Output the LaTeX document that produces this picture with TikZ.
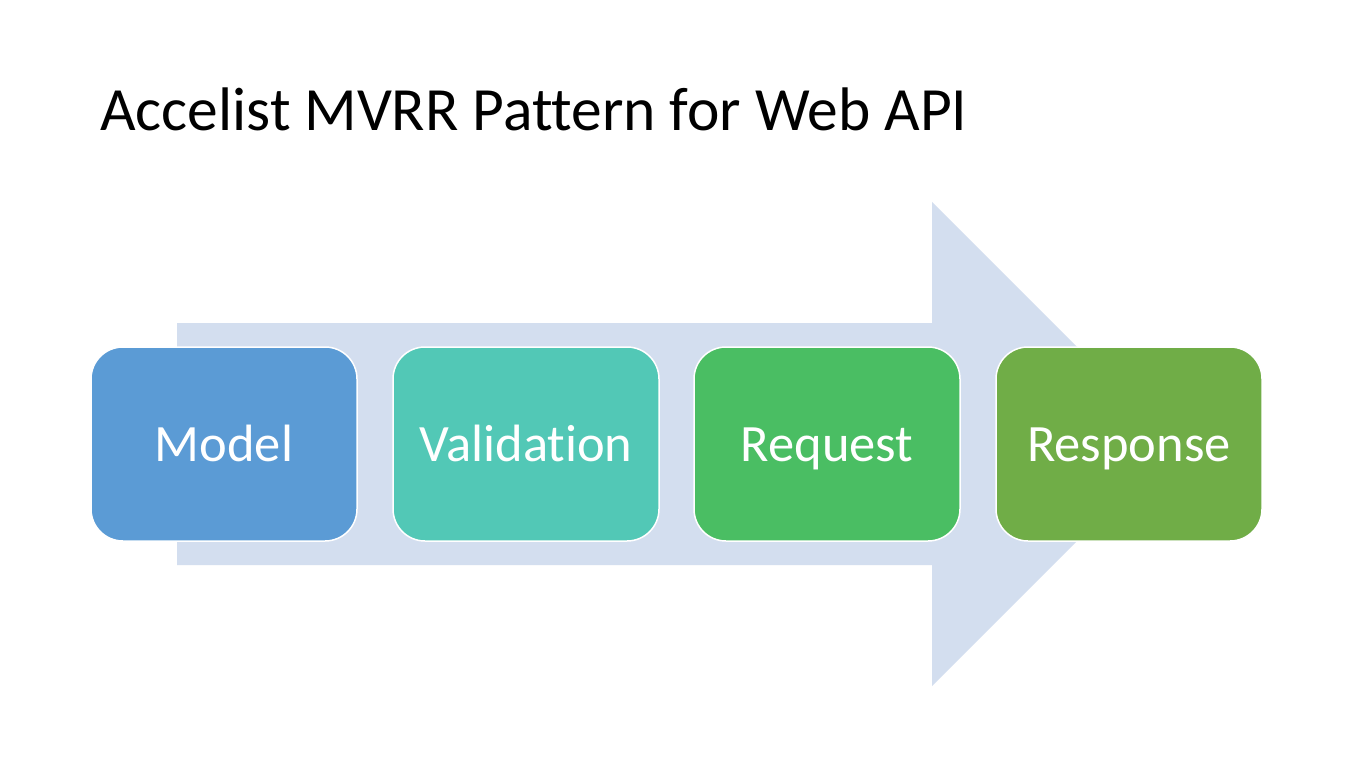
\documentclass[tikz,border=0pt]{standalone}
\usepackage{fontspec}
\setmainfont[Ligatures=CommonOff]{Carlito}
\definecolor{arrowfill}{HTML}{D3DEEF}
\definecolor{cmodel}{HTML}{5B9BD5}
\definecolor{cvalid}{HTML}{52C8B6}
\definecolor{creq}{HTML}{4ABE63}
\definecolor{cresp}{HTML}{70AD47}
\begin{document}
\begin{tikzpicture}[x=1pt,y=-1pt,
  stagebox/.style={draw=white, line width=1.5pt, rounded corners=32pt,
    minimum width=266pt, minimum height=194pt, inner sep=0pt,
    text=white, font=\fontsize{52.5}{60}\selectfont,
    text height=34pt, text depth=0pt, align=center}]
\useasboundingbox[fill=white] (0,0) rectangle (1346,759);
% title
\node[anchor=base west, inner sep=0pt, font=\fontsize{61.5}{70}\selectfont] (title) at (100,131) {Accelist MVRR Pattern for Web API};
% big arrow
\fill[arrowfill] (177,323) -- (932,323) -- (932,202) -- (1174,444) -- (932,686) -- (932,565) -- (177,565) -- cycle;
% stages
\node[stagebox, fill=cmodel] (model) at (224,444) {Model};
\node[stagebox, fill=cvalid] (validation) at (526,444) {Validation};
\node[stagebox, fill=creq] (request) at (827,444) {Request};
\node[stagebox, fill=cresp] (response) at (1129,444) {Response};
\end{tikzpicture}
\end{document}
